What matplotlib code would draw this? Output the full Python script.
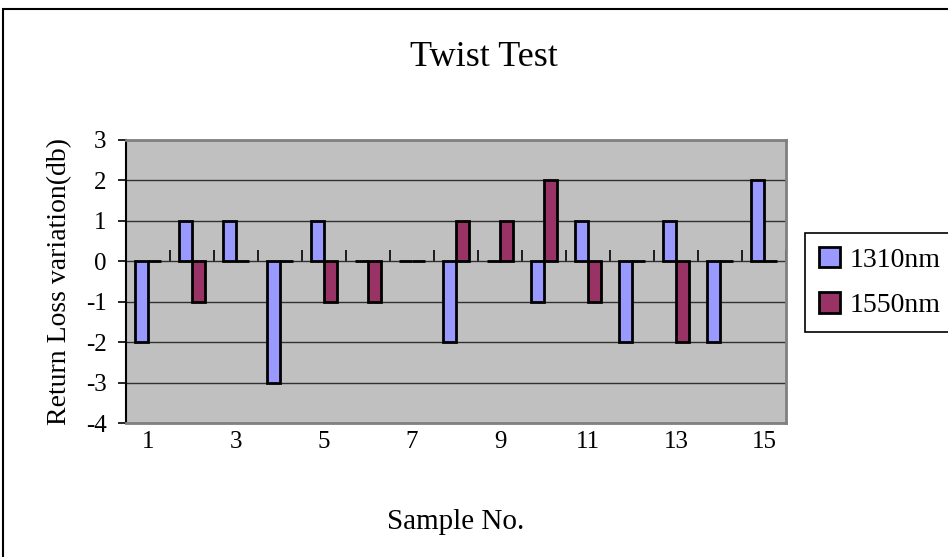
import matplotlib.pyplot as plt
import matplotlib.patches as mpatches
import numpy as np

samples = list(range(1, 16))
loss_1310 = [-2, 1, 1, -3, 1, 0, 0, -2, 0, -1, 1, -2, 1, -2, 2]
loss_1550 = [0, -1, 0, 0, -1, -1, 0, 1, 1, 2, -1, 0, -2, 0, 0]
y_ticks = [3, 2, 1, 0, -1, -2, -3, -4]

plt.rcParams['font.family'] = ['Liberation Serif', 'DejaVu Serif']

fig = plt.figure(figsize=[9.48, 5.57], dpi=100)
ax = fig.add_axes([126/948, 1-423/557, 660/948, 283/557])

x = np.array(samples)
w = 1/3.5
ax.bar(x - w/2, loss_1310, width=w, color='#9999FF', edgecolor='black', linewidth=2.0, label='1310nm', zorder=3)
ax.bar(x + w/2, loss_1550, width=w, color='#993366', edgecolor='black', linewidth=2.0, label='1550nm', zorder=3)

ax.set_facecolor('#C0C0C0')
ax.set_xlim(0.5, 15.5)
ax.set_ylim(-4, 3)
ax.set_yticks(y_ticks)
ax.set_yticklabels([str(v) for v in y_ticks], fontsize=18)
ax.yaxis.grid(True, color='#303030', linewidth=1.0, zorder=1)
ax.set_axisbelow(True)
ax.tick_params(axis='y', direction='out', length=6, width=1.2, pad=8)

ax.set_xticks(samples[::2])
ax.set_xticklabels([str(s) for s in samples[::2]], fontsize=18)
ax.tick_params(axis='x', length=0, pad=6)

for side in ['top', 'right', 'bottom']:
    ax.spines[side].set_color('#808080')
    ax.spines[side].set_linewidth(2)
ax.spines['left'].set_color('black')
ax.spines['left'].set_linewidth(1.5)

# category axis crossing at zero, ticks between categories pointing up
zero_ax = ax.secondary_xaxis(4/7)
zero_ax.set_xticks(np.arange(0.5, 16, 1))
zero_ax.set_xticklabels([])
zero_ax.tick_params(direction='out', length=8, width=1.2, color='black')
zero_ax.spines['bottom'].set_color('black')
zero_ax.spines['bottom'].set_linewidth(1.3)
zero_ax.spines['top'].set_visible(False)

ax.set_xlabel("Sample No.", fontsize=21, labelpad=40)
ax.set_ylabel("Return Loss variation(db)", fontsize=20, labelpad=10)
fig.text(484/948, 1-57/557, "Twist Test", fontsize=26, ha='center', va='center')

leg = fig.legend(loc='upper left', bbox_to_anchor=(805/948, 1-233/557), fontsize=20,
                 frameon=True, fancybox=False, edgecolor='black', framealpha=1,
                 handlelength=0.75, handleheight=0.75, handletextpad=0.35,
                 labelspacing=0.7, borderpad=0.5, borderaxespad=0)
leg.get_frame().set_linewidth(1.2)

border = mpatches.Rectangle((3/948, -0.1), 1.2, 1 - 9/557 + 0.1, transform=fig.transFigure,
                            fill=False, edgecolor='black', linewidth=1.5, clip_on=False)
fig.patches.append(border)

plt.savefig("out.png", dpi=100)
